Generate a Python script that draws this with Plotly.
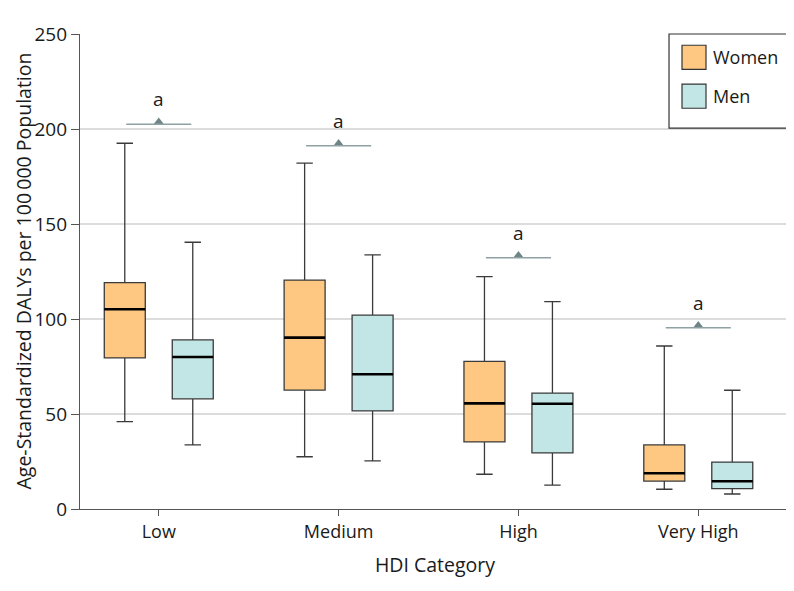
import plotly.graph_objects as go

categories = ["Low", "Medium", "High", "Very High"]

women_lower = [46, 27.5, 18.3, 10.4]
women_q1 = [79.5, 62.6, 35.3, 14.7]
women_median = [105.1, 90.2, 55.6, 18.8]
women_q3 = [119.1, 120.5, 77.7, 33.7]
women_upper = [192.5, 182, 122.3, 85.8]

men_lower = [33.7, 25.3, 12.6, 7.9]
men_q1 = [58, 51.6, 29.5, 10.7]
men_median = [80, 70.9, 55.4, 14.6]
men_q3 = [89, 102, 61, 24.7]
men_upper = [140.4, 133.8, 109.1, 62.5]

sig_y = [202.5, 191.2, 132.3, 95.4]
sig_label = ["a", "a", "a", "a"]

FONT = "Open Sans"
women_color = "#FFC882"
men_color = "#C2E5E5"
edge = "#3a3a3a"

fig = go.Figure()

def add_group(name, lower, q1, med, q3, upper, color, group):
    fig.add_trace(go.Box(
        x=categories, lowerfence=lower, q1=q1, median=med, q3=q3, upperfence=upper,
        name=name, offsetgroup=group, alignmentgroup="all",
        fillcolor=color, line=dict(color=edge, width=1.3), whiskerwidth=0.4,
        showlegend=False, hoverinfo="skip"))
    # thick median overlay
    fig.add_trace(go.Box(
        x=categories, lowerfence=med, q1=med, median=med, q3=med, upperfence=med,
        name=name + " median", offsetgroup=group, alignmentgroup="all",
        fillcolor="rgba(0,0,0,0)", line=dict(color="#000000", width=2.6), whiskerwidth=0,
        showlegend=False, hoverinfo="skip"))

add_group("Women", women_lower, women_q1, women_median, women_q3, women_upper, women_color, "W")
add_group("Men", men_lower, men_q1, men_median, men_q3, men_upper, men_color, "M")

# significance markers
shapes = []
annotations = []
for i, (cat, yv, lab) in enumerate(zip(categories, sig_y, sig_label)):
    shapes.append(dict(type="line", xref="x", yref="y", x0=i - 0.181, x1=i + 0.181,
                       y0=yv, y1=yv, line=dict(color="#8FA1A4", width=1.5), layer="above"))
    annotations.append(dict(x=cat, y=yv, xref="x", yref="y", text=lab, showarrow=False,
                            yanchor="bottom", yshift=10, font=dict(family=FONT, size=19, color="#1a1a1a")))
fig.add_trace(go.Scatter(
    x=categories, y=[v + 1.15 for v in sig_y], mode="markers",
    marker=dict(symbol="triangle-up", size=9, color="#6F8487", line=dict(width=0)),
    showlegend=False, hoverinfo="skip"))

# manual legend
lx0, lx1, ly0, ly1 = 0.8296, 0.997, 0.802, 1.0
shapes.append(dict(type="rect", xref="paper", yref="paper", x0=lx0, x1=lx1, y0=ly0, y1=ly1,
                   line=dict(color="#333333", width=1.2), fillcolor="white", layer="above"))
legend_items = [("Women", women_color, 0.951), ("Men", men_color, 0.869)]
for name, col, yc in legend_items:
    shapes.append(dict(type="rect", xref="paper", yref="paper",
                       x0=0.8479, x1=0.8817, y0=yc - 0.0253, y1=yc + 0.0253,
                       line=dict(color="#333333", width=1.2), fillcolor=col, layer="above"))
    annotations.append(dict(x=0.889, y=yc, xref="paper", yref="paper", text=name, showarrow=False,
                            xanchor="left", yanchor="middle",
                            font=dict(family=FONT, size=18, color="#1a1a1a")))

# y-axis title as rotated annotation
annotations.append(dict(x=0, y=0.5, xref="paper", yref="paper", xanchor="center", yanchor="middle",
                        xshift=-57, textangle=-90, showarrow=False, borderpad=0,
                        text="Age-Standardized DALYs per 100\u2009000 Population",
                        font=dict(family=FONT, size=19.5, color="#1a1a1a")))

fig.update_layout(
    width=786, height=583,
    margin=dict(l=72, r=4, t=26, b=82),
    paper_bgcolor="white", plot_bgcolor="white",
    boxmode="group", boxgap=0.244, boxgroupgap=0.397,
    font=dict(family=FONT, size=18, color="#1a1a1a"),
    shapes=shapes, annotations=annotations,
    showlegend=False,
)
fig.update_xaxes(
    type="category", range=[-0.438, 3.51],
    showline=True, linecolor="#555555", linewidth=1.2,
    ticks="outside", ticklen=6, tickcolor="#555555",
    tickfont=dict(family=FONT, size=18),
    title=dict(text="HDI Category", font=dict(family=FONT, size=19.5), standoff=16),
    showgrid=False,
)
fig.update_yaxes(
    range=[0, 250], tickvals=[0, 50, 100, 150, 200, 250],
    showline=True, linecolor="#555555", linewidth=1.2,
    ticks="outside", ticklen=8, tickcolor="#555555",
    tickfont=dict(family=FONT, size=19),
    showgrid=True, gridcolor="#DCDCDC", gridwidth=1.5, zeroline=False,
)

fig.write_html("out.html")
